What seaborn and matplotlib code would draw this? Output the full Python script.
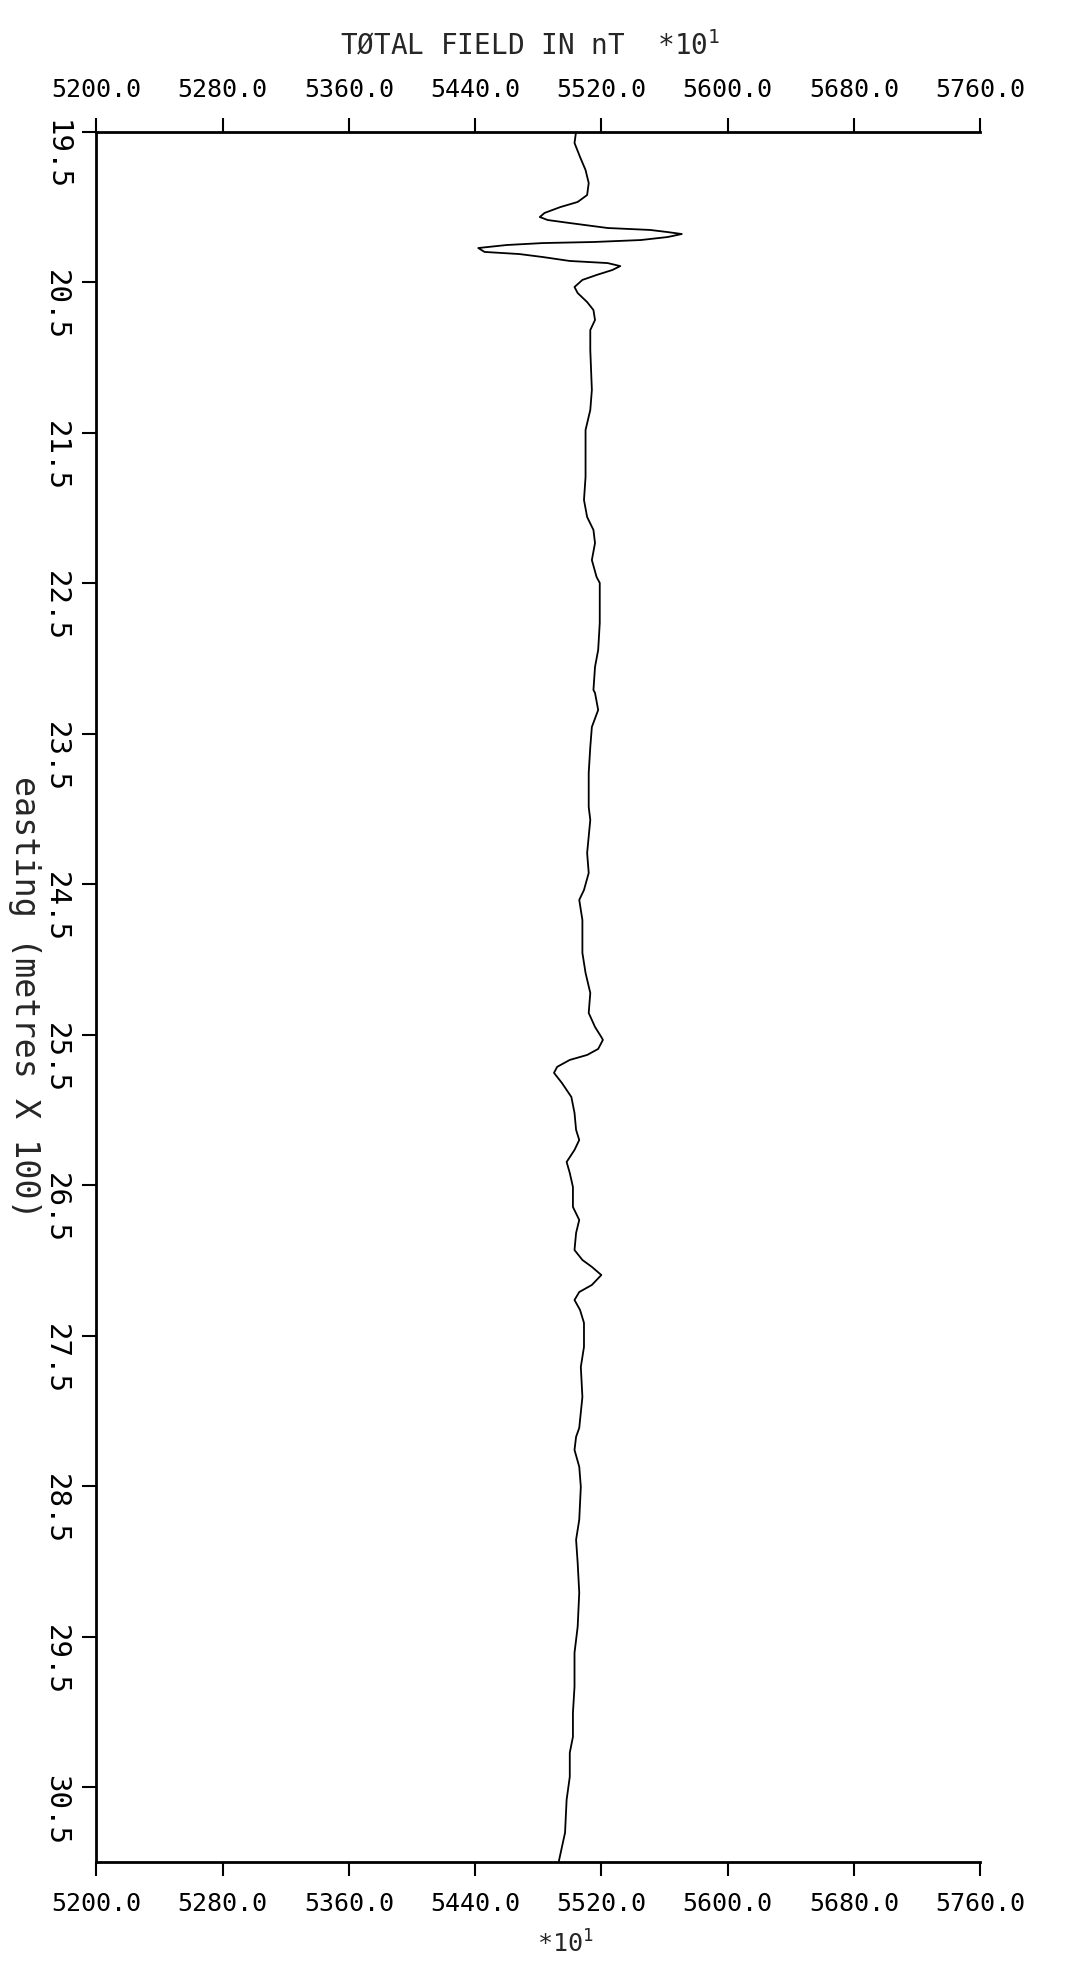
import matplotlib
matplotlib.use('Agg')
import matplotlib.pyplot as plt
import seaborn as sns
from matplotlib.transforms import ScaledTranslation

# total field (nT * 10), top to bottom
total_field = [
    # anomaly near 20.0
    5504, 5503, 5506.5, 5510, 5512, 5511, 5505, 5494, 5484, 5481,
    5486, 5500, 5524, 5551, 5562, 5571, 5562, 5545, 5515, 5483,
    5460, 5442, 5446, 5468, 5483, 5500, 5524, 5532, 5527, 5517,
    5508, 5503, 5505, 5511, 5515, 5516,
    # quiet stretch 20.8 - 25.5
    5513, 5513, 5514, 5513, 5510, 5510, 5510, 5509, 5511, 5515,
    5516, 5514, 5517, 5519, 5519, 5518, 5516, 5515, 5516, 5518,
    5514, 5513, 5512, 5512, 5513, 5511, 5512, 5509, 5506, 5508,
    5508, 5510, 5513, 5512, 5516, 5520,
    # 25.5 - 28.1
    5521, 5518, 5511, 5500, 5492, 5490, 5495, 5501, 5503, 5504,
    5506, 5503, 5498, 5500, 5502, 5502, 5506, 5504, 5503, 5508,
    5514, 5520, 5514, 5506, 5503, 5506.5, 5509, 5509, 5507, 5508,
    5506,
    # 28.1 - end
    5504, 5503, 5506, 5507, 5506, 5504, 5505, 5506, 5505, 5503,
    5503, 5502, 5502, 5500, 5500, 5498, 5497, 5493,
]

# easting (metres x 100)
easting = [
    19.500, 19.576, 19.669, 19.756, 19.842, 19.922, 19.968, 20.002, 20.041, 20.068,
    20.088, 20.108, 20.141, 20.154, 20.168, 20.181, 20.201, 20.221, 20.234, 20.241,
    20.254, 20.274, 20.300, 20.314, 20.334, 20.360, 20.374, 20.394, 20.420, 20.453,
    20.486, 20.533, 20.573, 20.633, 20.686, 20.752,
    20.819, 20.952, 21.217, 21.350, 21.483, 21.662, 21.795, 21.948, 22.061, 22.147,
    22.234, 22.347, 22.460, 22.499, 22.765, 22.944, 23.057, 23.210, 23.230, 23.343,
    23.456, 23.589, 23.761, 23.987, 24.074, 24.293, 24.426, 24.539, 24.605, 24.738,
    24.957, 25.090, 25.223, 25.356, 25.449, 25.516,
    25.535, 25.595, 25.635, 25.668, 25.714, 25.754, 25.821, 25.914, 26.020, 26.133,
    26.200, 26.266, 26.346, 26.419, 26.512, 26.645, 26.731, 26.818, 26.931, 26.997,
    27.043, 27.097, 27.163, 27.210, 27.263, 27.329, 27.415, 27.575, 27.708, 27.907,
    28.113,
    28.172, 28.259, 28.371, 28.504, 28.723, 28.856, 29.009, 29.208, 29.434, 29.607,
    29.833, 30.005, 30.165, 30.271, 30.431, 30.583, 30.802, 30.995,
]

field_ticks = [5200.0, 5280.0, 5360.0, 5440.0, 5520.0, 5600.0, 5680.0, 5760.0]
easting_ticks = [19.5, 20.5, 21.5, 22.5, 23.5, 24.5, 25.5, 26.5, 27.5, 28.5, 29.5, 30.5]

sns.set_style('white')
plt.rcParams['font.family'] = ['DejaVu Sans Mono', 'DejaVu Sans']
plt.rcParams['mathtext.fontset'] = 'custom'
plt.rcParams['mathtext.rm'] = 'DejaVu Sans Mono'
plt.rcParams['mathtext.it'] = 'DejaVu Sans Mono'

fig = plt.figure(figsize=(10.66, 19.63), dpi=100)
ax = fig.add_axes([0.0905, 0.0512, 0.8288, 0.8818])

sns.lineplot(x=total_field, y=easting, sort=False, orient='y', estimator=None,
             color='black', linewidth=1.3, ax=ax)

ax.set_xlim(5200, 5760)
ax.set_ylim(31.0, 19.5)

ax.set_xticks(field_ticks)
ax.set_xticklabels([f'{v:.1f}' for v in field_ticks])
ax.set_yticks(easting_ticks)
ax.set_yticklabels([f'{v:.1f}' for v in easting_ticks], rotation=-90, va='top')

for side in ['left', 'top', 'bottom']:
    ax.spines[side].set_visible(True)
    ax.spines[side].set_linewidth(2.0)
    ax.spines[side].set_color('black')
ax.spines['right'].set_visible(False)

ax.tick_params(axis='x', top=True, bottom=True, labeltop=True, labelbottom=True,
               direction='out', length=10, width=1.5, pad=11, labelsize=18, colors='black')
ax.tick_params(axis='y', left=True, right=False, direction='out',
               length=10, width=1.5, pad=9, labelsize=21, colors='black')

# labels start a little above their tick, reading downwards
shift = ScaledTranslation(0, 0.12, fig.dpi_scale_trans)
for lab in ax.get_yticklabels():
    lab.set_transform(lab.get_transform() + shift)

ax.set_ylabel('easting (metres X 100)', rotation=-90, fontsize=24,
              ha='center', va='center')
ax.yaxis.set_label_coords(-0.081, 0.5)

fig.text(0.497, 0.972, 'TØTAL FIELD IN nT  *10$^{1}$', ha='center', va='baseline',
         fontsize=20)
fig.text(0.530, 0.003, '*10$^{1}$', ha='center', va='bottom', fontsize=18)

fig.savefig('out.png', dpi=100)
